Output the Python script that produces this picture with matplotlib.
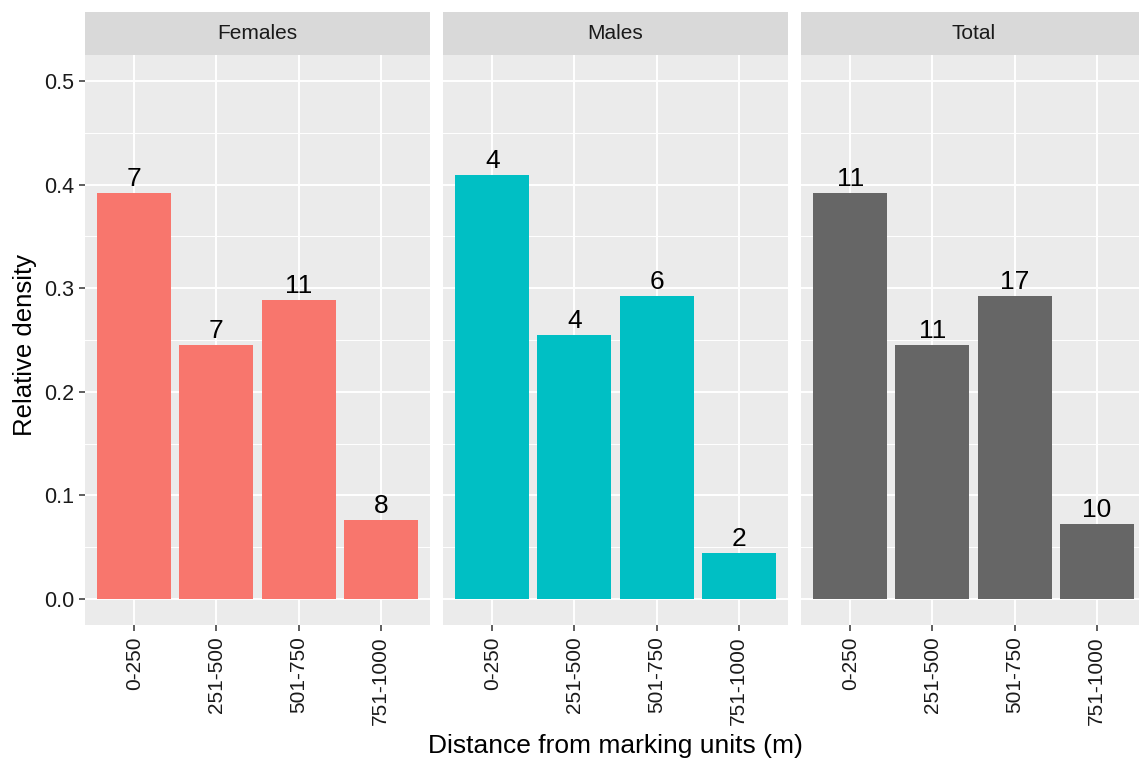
import matplotlib
matplotlib.use("Agg")
import matplotlib.pyplot as plt
import numpy as np

plt.rcParams['font.family'] = ['Liberation Sans', 'DejaVu Sans']

categories = ["0-250", "251-500", "501-750", "751-1000"]
panels = ["Females", "Males", "Total"]
females = [0.392, 0.245, 0.289, 0.076]
males = [0.409, 0.255, 0.292, 0.044]
total = [0.392, 0.245, 0.292, 0.072]
females_n = [7, 7, 11, 8]
males_n = [4, 4, 6, 2]
total_n = [11, 11, 17, 10]
colors = ["#F8766D", "#00BFC4", "#666666"]

values = [females, males, total]
counts = [females_n, males_n, total_n]

W, H = 1139, 762
fig = plt.figure(figsize=(W / 100, H / 100), dpi=100)

panel_left = [85, 443, 801]
panel_w = 345
panel_top = 55
panel_bottom = 625
strip_top = 12

for i, name in enumerate(panels):
    x0 = panel_left[i]
    ax = fig.add_axes([x0 / W, 1 - panel_bottom / H, panel_w / W, (panel_bottom - panel_top) / H])
    ax.set_facecolor("#EBEBEB")
    x = np.arange(1, len(categories) + 1)
    ax.bar(x, values[i], width=0.9, color=colors[i], zorder=3)
    for xi, v, n in zip(x, values[i], counts[i]):
        ax.text(xi, v + 0.002, str(n), ha="center", va="bottom", fontsize=19, color="black", zorder=4)
    ax.set_xlim(0.4, 4.6)
    ax.set_ylim(-0.025, 0.525)
    ax.set_xticks(x)
    ax.set_xticklabels(categories, rotation=90, fontsize=15, color="#1A1A1A")
    ax.set_yticks([0.0, 0.1, 0.2, 0.3, 0.4, 0.5])
    ax.set_yticks([0.05, 0.15, 0.25, 0.35, 0.45], minor=True)
    if i == 0:
        ax.set_yticklabels(["0.0", "0.1", "0.2", "0.3", "0.4", "0.5"], fontsize=15.5, color="#1A1A1A")
    else:
        ax.set_yticklabels([])
    ax.tick_params(axis="both", which="major", length=4, width=1.1, color="#333333", pad=4)
    ax.tick_params(axis="y", which="minor", length=0)
    if i > 0:
        ax.tick_params(axis="y", which="major", length=0)
    ax.grid(True, which="major", color="white", linewidth=1.4, zorder=0)
    ax.grid(True, which="minor", axis="y", color="white", linewidth=0.7, zorder=0)
    ax.set_axisbelow(True)
    for s in ax.spines.values():
        s.set_visible(False)
    # strip
    sax = fig.add_axes([x0 / W, 1 - panel_top / H, panel_w / W, (panel_top - strip_top) / H])
    sax.set_facecolor("#D9D9D9")
    sax.set_xticks([])
    sax.set_yticks([])
    for s in sax.spines.values():
        s.set_visible(False)
    sax.text(0.5, 0.5, name, ha="center", va="center", fontsize=15, color="#1A1A1A", transform=sax.transAxes)

fig.text(615 / W, 1 - 746 / H, "Distance from marking units (m)", ha="center", va="center", fontsize=19)
fig.text(25 / W, 1 - 345 / H, "Relative density", ha="center", va="center", rotation=90, fontsize=18.5)

fig.savefig("out.png", dpi=100)
